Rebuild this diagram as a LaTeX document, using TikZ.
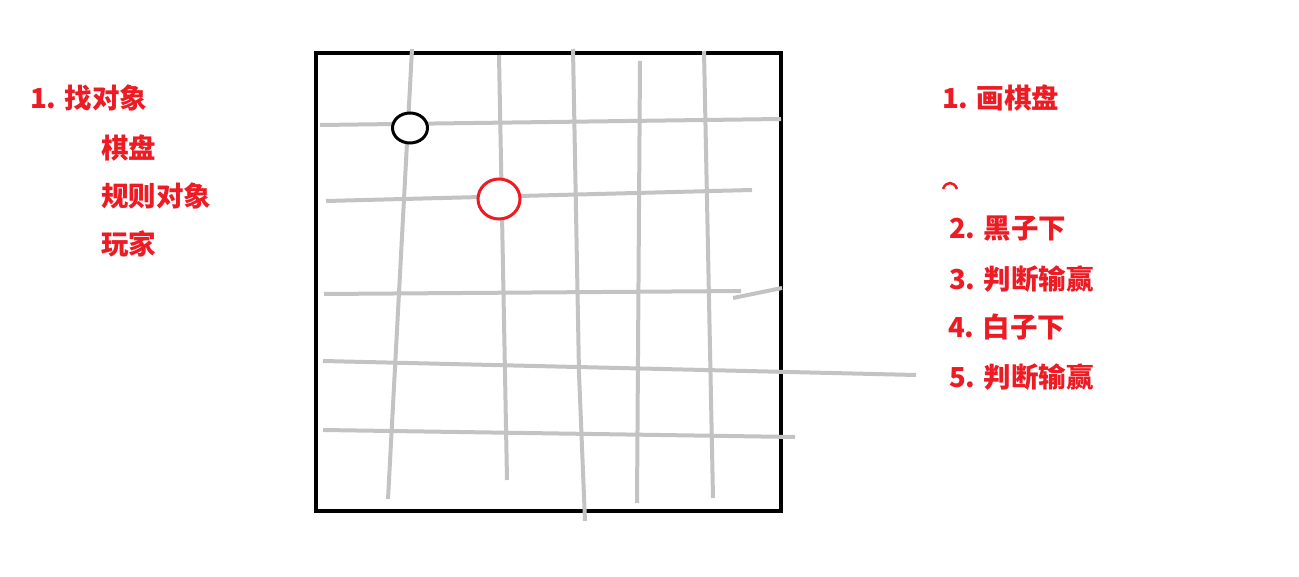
\documentclass[tikz,border=0pt]{standalone}
\usepackage{fontspec}
\newfontfamily\cjk{Noto Sans CJK SC}
\usetikzlibrary{calc}
\definecolor{paintred}{HTML}{ED1C24}
\definecolor{paintgray}{HTML}{C3C3C3}

\begin{document}
\begin{tikzpicture}[x=1pt, y=-1pt,
    gridline/.style={paintgray, line width=4pt},
    lbl/.style={anchor=west, inner sep=0pt, text=paintred,
                font=\cjk\bfseries\fontsize{27.5}{32}\selectfont}]
            \useasboundingbox (0,0) rectangle (1299,577);
            % board frame
            \coordinate (NW) at (316,53);
            \coordinate (SE) at (781,511);
            \draw[line width=4.5pt] (NW) rectangle (SE);
            % rows
            \coordinate (H1a) at (320,125); \coordinate (H1b) at (781,119);
            \coordinate (H2a) at (326,201); \coordinate (H2b) at (752,190);
            \coordinate (H3a) at (324,294); \coordinate (H3b) at (741,291);
            \coordinate (H3c) at (733,298); \coordinate (H3d) at (782,288);
            \coordinate (H4a) at (323,361); \coordinate (H4b) at (916,375);
            \coordinate (H5a) at (323,430); \coordinate (H5b) at (795,437);
            % columns
            \coordinate (V1a) at (412,49);  \coordinate (V1b) at (388,499);
            \coordinate (V2a) at (499,55);  \coordinate (V2b) at (507,480);
            \coordinate (V3a) at (573,49);  \coordinate (V3m) at (579,373);
            \coordinate (V3b) at (585,521);
            \coordinate (V4a) at (640,61);  \coordinate (V4b) at (637,503);
            \coordinate (V5a) at (704,51);  \coordinate (V5b) at (713,498);
            \draw[gridline] (H1a) -- (H1b) (H2a) -- (H2b) (H3a) -- (H3b)
                (H3c) -- (H3d) (H4a) -- (H4b) (H5a) -- (H5b);
            \draw[gridline] (V1a) -- (V1b) (V2a) -- (V2b) (V3a) -- (V3m) -- (V3b)
                (V4a) -- (V4b) (V5a) -- (V5b);
            % stones
            \coordinate (B) at (410,128);
            \coordinate (R) at (499,199);
            \draw[line width=3pt, fill=white] (B) ellipse [x radius=17.5, y radius=15];
            \draw[paintred, line width=3pt, fill=white] (R) ellipse [x radius=21, y radius=20];
            % left notes
            \node[lbl] (obj)   at (30,98)  {1. 找对象};
            \node[lbl] (board) at (101,148) {棋盘};
            \node[lbl] (rule)  at (101,196) {规则对象};
            \node[lbl] (player) at (101,244) {玩家};
            % right steps
            \node[lbl] (s1) at (942,98)  {1. 画棋盘};
            \node[lbl] (s2) at (949,229) {2. 黑子下};
            \node[lbl] (s3) at (949,279) {3. 判断输赢};
            \node[lbl] (s4) at (948,327) {4. 白子下};
            \node[lbl] (s5) at (949,377) {5. 判断输赢};
            \coordinate (Ma) at (943,189);
            \coordinate (Mb) at (957,189);
            \draw[paintred, line width=2.5pt] (Ma) .. controls (946,181) and (954,181) .. (Mb);
        \end{tikzpicture}
\end{document}
